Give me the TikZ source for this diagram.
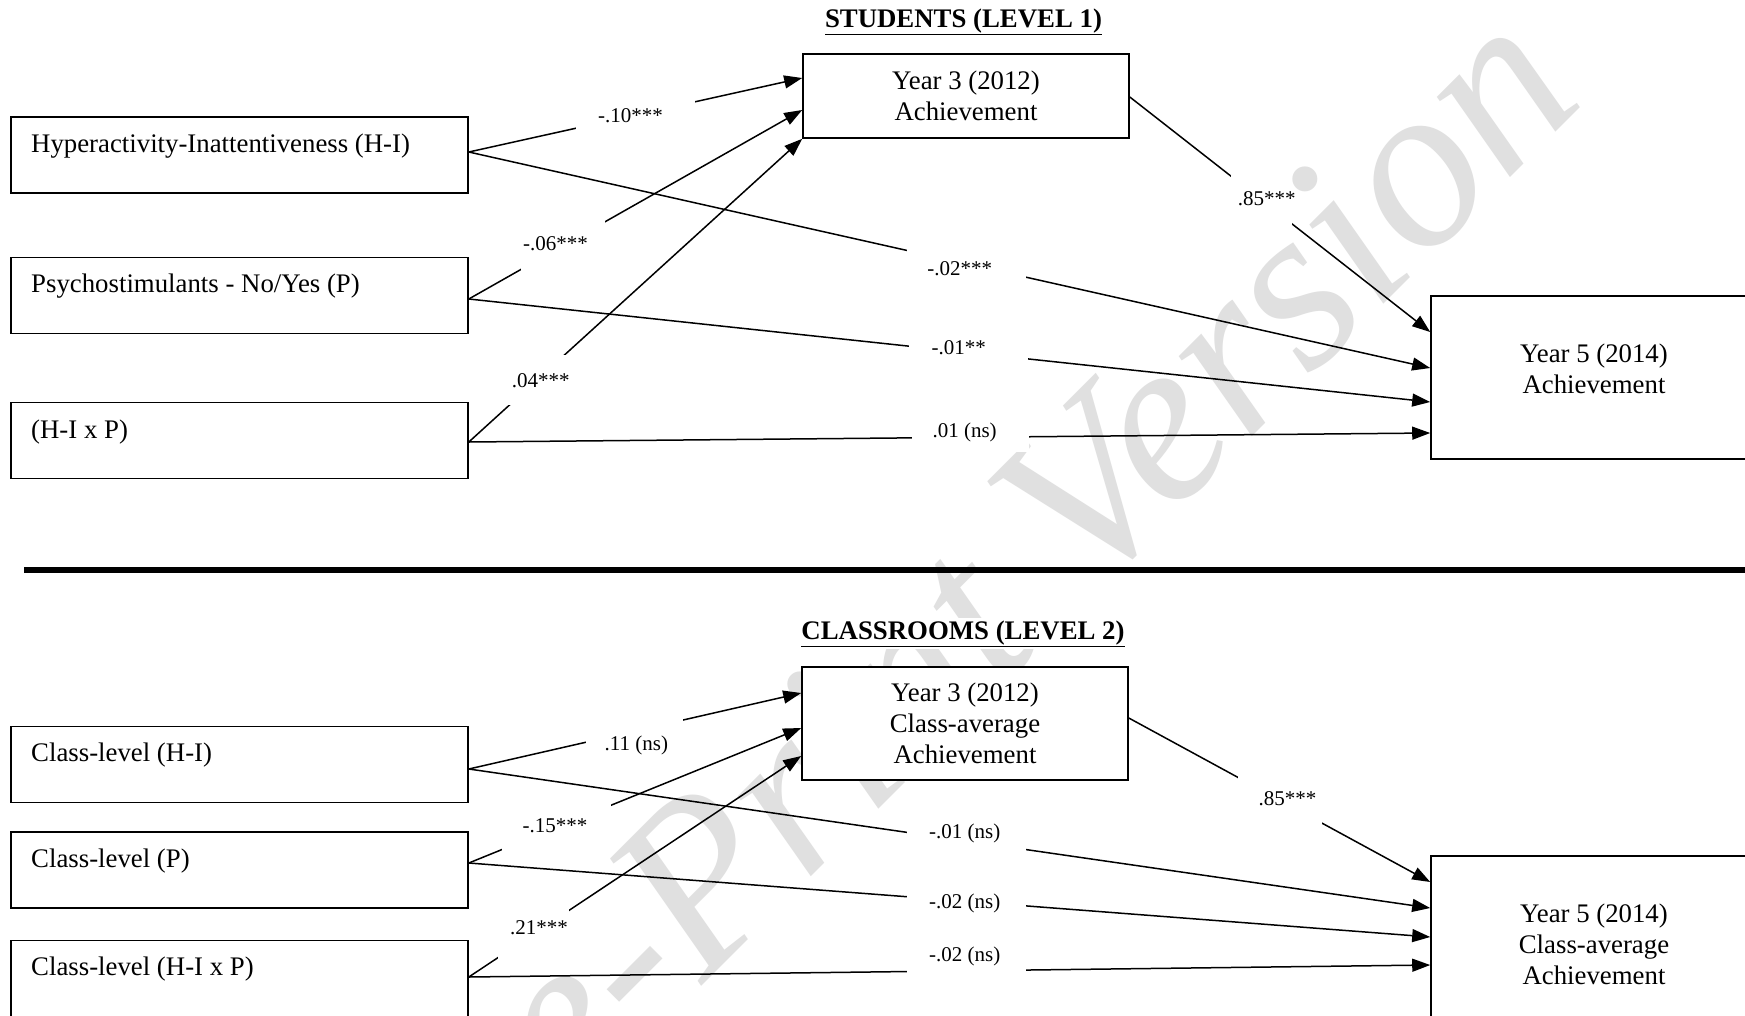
\documentclass[tikz,border=0pt]{standalone}
\usepackage{fontspec}
\setmainfont{Liberation Serif}
\usetikzlibrary{arrows.meta}
\newcommand{\lbltxt}[3]{\makebox[0pt]{\raisebox{\dimexpr #2pt-7pt\relax}[0pt][0pt]{\kern #1pt #3\kern -#1pt}}}
\begin{document}
\begin{tikzpicture}[x=1pt,y=-1pt,
  boxtext/.style={font=\fontsize{26.8}{31}\selectfont},
  leftbox/.style={draw, fill=white, line width=1.6pt, minimum width=457pt, minimum height=76pt, inner sep=0pt},
  ybox/.style={draw, fill=white, line width=1.6pt, minimum width=326pt, inner sep=0pt, align=center, boxtext},
  itemtext/.style={anchor=base west, inner sep=0pt, boxtext},
  title/.style={anchor=base, inner sep=2pt, fill=white, font=\fontsize{26.8}{31}\selectfont\bfseries},
  conn/.style={line width=1.5pt, -{Triangle[length=18pt,width=13pt]}},
  gap/.style={fill=white, inner sep=0pt, font=\fontsize{21}{21}\selectfont},
  wm/.style={text=black!12, font=\fontsize{236}{236}\selectfont\itshape, inner sep=0pt}
]
\path[use as bounding box, clip] (0,0) rectangle (1745,1015);
\fill[white] (0,0) rectangle (1745,1015);

% watermark
\node[wm, rotate=45, anchor=base west] (wmk) at (412,1276) {Pre-Print Version};

% ---------- Level 1 ----------
\node[title] (t1) at (963.5,27) {\underline{STUDENTS (LEVEL 1)}};

\node[leftbox] (hi) at (239.5,155) {};
\node[itemtext] (hit) at (31,152) {Hyperactivity-Inattentiveness (H-I)};
\node[leftbox] (ps) at (239.5,295.5) {};
\node[itemtext] (pst) at (31,292) {Psychostimulants - No/Yes (P)};
\node[leftbox] (hp) at (239.5,440.5) {};
\node[itemtext] (hpt) at (31,438) {(H-I x P)};

\node[ybox, minimum height=84pt] (y3a) at (966,96) {Year 3 (2012)\\Achievement};
\node[ybox, minimum height=163pt] (y5a) at (1594,377.5) {};
\node[boxtext, align=center, inner sep=0pt] (y5at) at (1594,369) {Year 5 (2014)\\Achievement};

\draw[conn] ([yshift=3pt]hi.east) -- node[gap, pos=0.5, minimum width=119pt, minimum height=30pt] (l1) {\lbltxt{-5}{0}{-.10***}} ([yshift=18pt]y3a.west);
\draw[conn] ([yshift=-3.5pt]ps.east) -- node[gap, pos=0.284, minimum width=84pt, minimum height=52pt] (l2) {\lbltxt{-8}{2}{-.06***}} ([yshift=-14pt]y3a.west);
\draw[conn] ([yshift=-1.5pt]hp.east) -- node[gap, pos=0.204, minimum width=60pt, minimum height=50pt] (l3) {\lbltxt{4}{0}{.04***}} (y3a.south west);

\draw[conn] ([yshift=3pt]hi.east) -- node[gap, pos=0.518, minimum width=119pt, minimum height=30pt] (l4) {\lbltxt{-7}{-5}{-.02***}} ([yshift=9.5pt]y5a.west);
\draw[conn] ([yshift=-3.5pt]ps.east) -- node[gap, pos=0.52, minimum width=119pt, minimum height=30pt] (l5) {\lbltxt{-10}{5}{-.01**}} ([yshift=-24.5pt]y5a.west);
\draw[conn] ([yshift=-1.5pt]hp.east) -- node[gap, pos=0.522, minimum width=117pt, minimum height=30pt] (l6) {\lbltxt{-6}{7}{.01 (ns)}} ([yshift=-55.5pt]y5a.west);
\draw[conn] ([yshift=-1pt]y3a.east) -- node[gap, pos=0.439, minimum width=61pt, minimum height=50pt] (l7) {\lbltxt{5}{2}{.85***}} ([yshift=45.5pt]y5a.west);

% separator
\draw[line width=6pt] (24,570) -- (1745,570);

% ---------- Level 2 ----------
\node[title] (t2) at (963,639) {\underline{CLASSROOMS (LEVEL 2)}};

\node[leftbox] (chi) at (239.5,764.5) {};
\node[itemtext] (chit) at (31,761) {Class-level (H-I)};
\node[leftbox] (cp) at (239.5,870) {};
\node[itemtext] (cpt) at (31,867) {Class-level (P)};
\node[leftbox] (chp) at (239.5,978.5) {};
\node[itemtext] (chpt) at (31,975) {Class-level (H-I x P)};

\node[ybox, minimum height=113pt] (y3b) at (965,723.5) {Year 3 (2012)\\Class-average\\Achievement};
\node[ybox, minimum height=180pt] (y5b) at (1594,946) {};
\node[boxtext, align=center, inner sep=0pt] (y5bt) at (1594,944) {Year 5 (2014)\\Class-average\\Achievement};

\draw[conn] ([yshift=-4.5pt]chi.east) -- node[gap, pos=0.498, minimum width=97pt, minimum height=30pt] (m1) {\lbltxt{2}{-12}{.11 (ns)}} ([yshift=30.5pt]y3b.west);
\draw[conn] ([yshift=7pt]cp.east) -- node[gap, pos=0.265, minimum width=109pt, minimum height=48pt] (m2) {\lbltxt{-2}{2}{-.15***}} ([yshift=-4.5pt]y3b.west);
\draw[conn] ([yshift=1.5pt]chp.east) -- node[gap, pos=0.196, minimum width=71pt, minimum height=50pt] (m3) {\lbltxt{5}{6}{.21***}} ([yshift=-32.5pt]y3b.west);

\draw[conn] ([yshift=-4.5pt]chi.east) -- node[gap, pos=0.518, minimum width=119pt, minimum height=26pt] (m4) {\lbltxt{-2}{10}{-.01 (ns)}} ([yshift=38pt]y5b.west);
\draw[conn] ([yshift=7pt]cp.east) -- node[gap, pos=0.518, minimum width=119pt, minimum height=26pt] (m5) {\lbltxt{-2}{0}{-.02 (ns)}} ([yshift=9pt]y5b.west);
\draw[conn] ([yshift=1.5pt]chp.east) -- node[gap, pos=0.518, minimum width=119pt, minimum height=26pt] (m6) {\lbltxt{-2}{16}{-.02 (ns)}} ([yshift=-19pt]y5b.west);
\draw[conn] ([yshift=5.5pt]y3b.east) -- node[gap, pos=0.5, minimum width=84pt, minimum height=48pt] (m7) {\lbltxt{8}{1.5}{.85***}} ([yshift=64pt]y5b.west);
\end{tikzpicture}
\end{document}
